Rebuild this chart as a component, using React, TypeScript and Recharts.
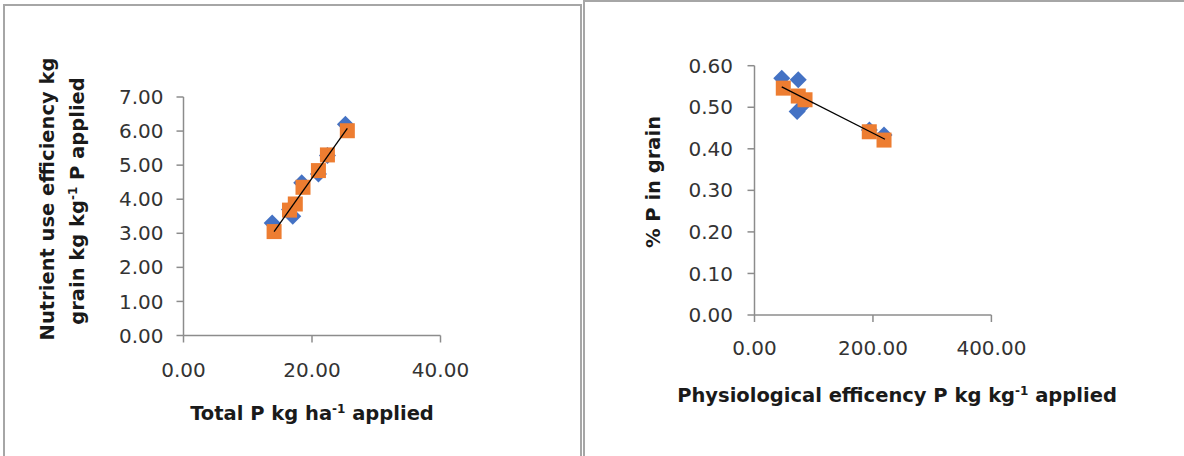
import React from 'react';
import { ScatterChart, Scatter, XAxis, YAxis, Label } from 'recharts';

// ---- Left chart data ----
const leftXTicks = [0, 20, 40];
const leftYTicks = [0, 1, 2, 3, 4, 5, 6, 7];
const leftObserved = [
  { x: 13.8, y: 3.3 },
  { x: 16.5, y: 3.7 },
  { x: 17.0, y: 3.5 },
  { x: 18.4, y: 4.48 },
  { x: 21.0, y: 4.74 },
  { x: 22.4, y: 5.28 },
  { x: 25.2, y: 6.2 },
];
const leftPredicted = [
  { x: 14.1, y: 3.05 },
  { x: 16.5, y: 3.68 },
  { x: 17.4, y: 3.86 },
  { x: 18.6, y: 4.35 },
  { x: 21.0, y: 4.84 },
  { x: 22.4, y: 5.3 },
  { x: 25.5, y: 6.01 },
];
const leftTrend = [
  { x: 14.1, y: 3.05 },
  { x: 25.5, y: 6.08 },
];

// ---- Right chart data ----
const rightXTicks = [0, 200, 400];
const rightYTicks = [0, 0.1, 0.2, 0.3, 0.4, 0.5, 0.6];
const rightObserved = [
  { x: 46, y: 0.57 },
  { x: 73.9, y: 0.566 },
  { x: 72, y: 0.49 },
  { x: 85, y: 0.51 },
  { x: 194, y: 0.445 },
  { x: 218.7, y: 0.433 },
];
const rightPredicted = [
  { x: 48.6, y: 0.546 },
  { x: 73.9, y: 0.527 },
  { x: 85.3, y: 0.518 },
  { x: 193.8, y: 0.441 },
  { x: 218.7, y: 0.421 },
];
const rightTrend = [
  { x: 46, y: 0.549 },
  { x: 220.3, y: 0.423 },
];

const BLUE = '#4472C4';
const ORANGE = '#ED7D31';
const AXIS = '#8c8c8c';
const FONT = 'DejaVu Sans, sans-serif';

const Diamond = (props: any) => {
  const { cx, cy } = props;
  const r = 8.5;
  return <path d={`M${cx},${cy - r}L${cx + r},${cy}L${cx},${cy + r}L${cx - r},${cy}Z`} fill={BLUE} />;
};
const Square = (props: any) => {
  const { cx, cy } = props;
  const s = 15;
  return <rect x={cx - s / 2} y={cy - s / 2} width={s} height={s} fill={ORANGE} />;
};
const NoShape = () => <g />;

const fmt = (v: number) => v.toFixed(2);
const tickStyle = { fill: '#333', fontSize: 20, fontFamily: FONT };
const titleStyle: any = { fill: '#1a1a1a', fontSize: 19.5, fontFamily: FONT, fontWeight: 'bold' };

const LeftXTitle = () => (
  <text x={312} y={420} textAnchor="middle" style={titleStyle}>
    Total P kg ha<tspan fontSize={12} dy={-7}>-1</tspan>
    <tspan dy={7}> applied</tspan>
  </text>
);
const LeftYTitle = () => (
  <g>
    <text transform="translate(54,199) rotate(-90)" textAnchor="middle" style={titleStyle}>
      Nutrient use efficiency kg
    </text>
    <text transform="translate(84,201) rotate(-90)" textAnchor="middle" style={titleStyle}>
      grain kg kg<tspan fontSize={12} dy={-7}>-1</tspan>
      <tspan dy={7}> P applied</tspan>
    </text>
  </g>
);
const RightXTitle = () => (
  <text x={317} y={402} textAnchor="middle" style={titleStyle}>
    Physiological efficency P kg kg<tspan fontSize={12} dy={-7}>-1</tspan>
    <tspan dy={7}> applied</tspan>
  </text>
);
const RightYTitle = () => (
  <text transform="translate(80,182) rotate(-90)" textAnchor="middle" style={titleStyle}>
    % P in grain
  </text>
);

export default function App() {
  return (
    <div style={{ position: 'fixed', left: 0, top: 0, width: 1184, height: 456, background: '#fff', overflow: 'hidden' }}>
      <div style={{ position: 'absolute', left: 3, top: 4, width: 579, height: 470, border: '2px solid #a6a6a6', boxSizing: 'border-box' }} />
      <div style={{ position: 'absolute', left: 583, top: 0, width: 620, height: 470, border: '2px solid #a6a6a6', boxSizing: 'border-box' }} />

      <div style={{ position: 'absolute', left: 0, top: 0 }}>
        <ScatterChart width={580} height={456} margin={{ top: 97, right: 139.5, bottom: 80.5, left: 103.5 }}>
          <XAxis
            type="number"
            dataKey="x"
            domain={[0, 40]}
            ticks={leftXTicks}
            tickFormatter={fmt}
            height={40}
            tickSize={7}
            tickMargin={20}
            axisLine={{ stroke: AXIS, strokeWidth: 1.5 }}
            tickLine={{ stroke: AXIS, strokeWidth: 1.5 }}
            tick={tickStyle}
          >
            <Label content={<LeftXTitle />} />
          </XAxis>
          <YAxis
            type="number"
            dataKey="y"
            domain={[0, 7]}
            ticks={leftYTicks}
            tickFormatter={fmt}
            width={80}
            tickSize={7}
            tickMargin={13}
            axisLine={{ stroke: AXIS, strokeWidth: 1.5 }}
            tickLine={{ stroke: AXIS, strokeWidth: 1.5 }}
            tick={tickStyle}
          >
            <Label content={<LeftYTitle />} />
          </YAxis>
          <Scatter data={leftObserved} shape={<Diamond />} isAnimationActive={false} />
          <Scatter data={leftPredicted} shape={<Square />} isAnimationActive={false} />
          <Scatter data={leftTrend} shape={<NoShape />} line={{ stroke: '#000', strokeWidth: 1.3 }} isAnimationActive={false} />
        </ScatterChart>
      </div>

      <div style={{ position: 'absolute', left: 580, top: 0 }}>
        <ScatterChart width={604} height={456} margin={{ top: 65.7, right: 192.6, bottom: 101, left: 94.5 }}>
          <XAxis
            type="number"
            dataKey="x"
            domain={[0, 400]}
            ticks={rightXTicks}
            tickFormatter={fmt}
            height={40}
            tickSize={7}
            tickMargin={19}
            axisLine={{ stroke: AXIS, strokeWidth: 1.5 }}
            tickLine={{ stroke: AXIS, strokeWidth: 1.5 }}
            tick={tickStyle}
          >
            <Label content={<RightXTitle />} />
          </XAxis>
          <YAxis
            type="number"
            dataKey="y"
            domain={[0, 0.6]}
            ticks={rightYTicks}
            tickFormatter={fmt}
            width={80}
            tickSize={7}
            tickMargin={14.5}
            axisLine={{ stroke: AXIS, strokeWidth: 1.5 }}
            tickLine={{ stroke: AXIS, strokeWidth: 1.5 }}
            tick={tickStyle}
          >
            <Label content={<RightYTitle />} />
          </YAxis>
          <Scatter data={rightObserved} shape={<Diamond />} isAnimationActive={false} />
          <Scatter data={rightPredicted} shape={<Square />} isAnimationActive={false} />
          <Scatter data={rightTrend} shape={<NoShape />} line={{ stroke: '#000', strokeWidth: 1.3 }} isAnimationActive={false} />
        </ScatterChart>
      </div>
    </div>
  );
}
